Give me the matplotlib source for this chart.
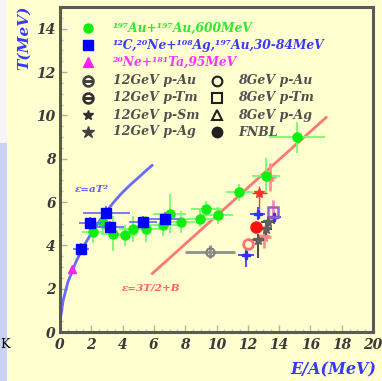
import matplotlib
matplotlib.use("Agg")
import matplotlib.pyplot as plt
from matplotlib.patches import Rectangle

# ---------------- data ----------------
# 197Au+197Au 600 MeV
au_E = [2.12, 2.76, 3.40, 4.14, 4.67, 5.52, 6.58, 7.00, 7.75, 8.92, 9.34, 10.08, 11.46, 13.16, 15.14]
au_T = [4.61, 5.03, 4.54, 4.46, 4.77, 4.77, 4.92, 5.46, 5.07, 5.23, 5.69, 5.38, 6.45, 7.22, 8.98]
au_xerr = [0.7, 0.8, 0.8, 0.8, 0.9, 0.9, 0.9, 1.05, 0.9, 0.9, 1.0, 1.0, 0.85, 0.9, 1.8]
au_yerr = [0.5, 0.5, 0.8, 0.5, 0.6, 0.6, 0.5, 0.9, 0.5, 0.4, 0.35, 0.4, 0.4, 0.8, 0.7]

# 12C,20Ne+108Ag,197Au 30-84 MeV
hi_E = [1.35, 1.91, 2.95, 3.18, 5.31, 6.69]
hi_T = [3.85, 5.03, 5.50, 4.84, 5.07, 5.23]
hi_xerr = [0.5, 0.7, 1.5, 0.9, 0.9, 1.0]
hi_yerr = [0.25, 0.3, 0.3, 0.3, 0.3, 0.3]

# 20Ne+181Ta 95 MeV
ne_E = [0.74]
ne_T = [2.93]

# proton induced / other points near E/A ~ 12-14
red_star_E, red_star_T = [12.74], [6.42]
pink_star_E, pink_star_T = [13.40, 13.06], [7.15, 4.38]
blue_cross_E = [12.63, 11.89, 13.70]
blue_cross_T = [5.46, 3.54, 5.30]
blue_cross_ylo = [0.3, 0.55, 0.3]
blue_cross_yhi = [0.3, 0.3, 0.3]
purple_sq_E, purple_sq_T = [13.60], [5.53]
red_dot_E, red_dot_T = [12.52], [4.84]
gray_star_E = [13.16, 13.27, 12.63]
gray_star_T = [4.77, 5.07, 4.23]
gray_star_ylo = [0.3, 0.3, 0.8]
gray_star_yhi = [0.3, 0.3, 0.3]
pink_circ_E, pink_circ_T = [12.00], [4.08]
gray_circ_E, gray_circ_T = [9.60], [3.70]

# Fermi gas curve
fermi_E = [0.05, 0.2, 0.5, 1.0, 1.5, 2.0, 2.5, 3.0, 3.5, 4.0, 4.5, 5.0, 5.5, 5.9]
fermi_T = [0.72, 1.45, 2.30, 3.20, 3.95, 4.55, 5.10, 5.60, 6.05, 6.45, 6.80, 7.12, 7.45, 7.70]
# classical gas line
gas_E = [5.9, 17.0]
gas_T = [2.7, 9.9]

xticks = [0, 2, 4, 6, 8, 10, 12, 14, 16, 18, 20]
yticks = [0, 2, 4, 6, 8, 10, 12, 14]

legend_heavy = ["¹⁹⁷Au+¹⁹⁷Au,600MeV", "¹²C,²⁰Ne+¹⁰⁸Ag,¹⁹⁷Au,30-84MeV", "²⁰Ne+¹⁸¹Ta,95MeV"]
legend_p_left = ["12GeV p-Au", "12GeV p-Tm", "12GeV p-Sm", "12GeV p-Ag"]
legend_p_right = ["8GeV p-Au", "8GeV p-Tm", "8GeV p-Ag", "FNBL"]

# ---------------- style ----------------
BG = "#FFFFCF"
FONT = "DejaVu Serif"
TXT = "#3a3a3a"
GREEN = "#10ee10"
GREEN_L = "#70ff70"
BLUE = "#0000ff"
BLUE_L = "#7070ff"
MAG = "#ff22ff"

fig = plt.figure(figsize=(3.82, 3.81), dpi=100, facecolor=BG)
W, H = 382, 381
ax = fig.add_axes([60 / W, (H - 332) / H, 313 / W, 325 / H], facecolor=BG)

# left strip artefact
fig.patches.append(Rectangle((0, 0), 7 / W, (H - 143) / H, transform=fig.transFigure,
                             facecolor="#c9d2f3", edgecolor="none", zorder=0))
fig.patches.append(Rectangle((0, (H - 143) / H), 7 / W, 143 / H, transform=fig.transFigure,
                             facecolor="#f7f4f6", edgecolor="none", zorder=0))
fig.text(0.0, (H - 345) / H, "K", fontsize=9, color="black", family="DejaVu Serif",
         va="center", ha="left")

ax.set_xlim(0, 20)
ax.set_ylim(0, 15)

# theory lines
ax.plot(fermi_E, fermi_T, color="#6a6aff", lw=2.0, zorder=2, solid_capstyle="round")
ax.plot(gas_E, gas_T, color="#ff7878", lw=2.0, zorder=2)

# heavy-ion data
ax.errorbar(au_E, au_T, xerr=au_xerr, yerr=au_yerr, fmt="o", color=GREEN, ms=6.5,
            ecolor=GREEN_L, elinewidth=1.3, capsize=0, zorder=4)
ax.errorbar(hi_E, hi_T, xerr=hi_xerr, yerr=hi_yerr, fmt="s", color=BLUE, ms=6.5,
            ecolor=BLUE_L, elinewidth=1.3, capsize=0, zorder=5)
ax.plot(ne_E, ne_T, "^", color=MAG, ms=6, zorder=5)

# others
ax.errorbar(gray_circ_E, gray_circ_T, xerr=[1.6], yerr=[0.3], fmt="o", mfc="none",
            mec="#808080", mew=1.5, ms=6, ecolor="#909090", elinewidth=2, capsize=0, zorder=4)
ax.errorbar(red_star_E, red_star_T, xerr=[0.5], yerr=[[0.75], [0.3]], fmt="*", color="#ff3030",
            ms=7, ecolor="#ff3030", elinewidth=1, capsize=0, zorder=5)
ax.errorbar(pink_star_E, pink_star_T, xerr=[0.4, 0.4], yerr=[0.65, 0.5], fmt="*", color="#ff8080",
            ms=7, ecolor="#ff9090", elinewidth=2, capsize=0, zorder=3)
ax.errorbar(blue_cross_E, blue_cross_T, xerr=[0.5, 0.5, 0.4], yerr=[blue_cross_ylo, blue_cross_yhi],
            fmt="P", color="#3030ff", ms=6, ecolor="#4040ff", elinewidth=1.3, capsize=0, zorder=5)
ax.errorbar(purple_sq_E, purple_sq_T, yerr=[[0.3], [0.55]], fmt="s", mfc="none", mec="#a060c0",
            mew=1.8, ms=7, ecolor="#ff8ab0", elinewidth=2, capsize=0, zorder=5)
ax.errorbar(gray_star_E, gray_star_T, xerr=0.4, yerr=[gray_star_ylo, gray_star_yhi], fmt="*",
            color="#606060", ms=7, ecolor="#505050", elinewidth=1.5, capsize=0, zorder=5)
ax.plot(red_dot_E, red_dot_T, "o", color="#ff1010", ms=8, zorder=6)
ax.plot(pink_circ_E, pink_circ_T, "o", mfc="none", mec="#ff7070", mew=2, ms=7, zorder=6)

# annotations
ax.text(0.95, 6.6, "ε=aT²", fontsize=7.5, color="#6060ff", family=FONT, weight="bold",
        style="italic", ha="left", va="center")
ax.text(3.95, 2.05, "ε=3T/2+B", fontsize=7.5, color="#ff6060", family=FONT, weight="bold",
        style="italic", ha="left", va="center")

# axes styling
for s in ax.spines.values():
    s.set_color("#5a5a5a")
    s.set_linewidth(2.2)
ax.set_xticks(xticks)
ax.set_yticks(yticks)
ax.set_xticks([v * 0.5 for v in range(41)], minor=True)
ax.set_yticks([v * 0.5 for v in range(31)], minor=True)
ax.tick_params(which="major", direction="in", length=5, width=1, color="#b0b0b0",
               labelsize=10, labelcolor=TXT, pad=3)
ax.tick_params(which="minor", direction="in", length=2.5, width=1, color="#c0c0c0")
ax.tick_params(axis="x", which="major", pad=4)
for lab in ax.get_xticklabels() + ax.get_yticklabels():
    lab.set_family(FONT)
    lab.set_weight("bold")
    lab.set_style("italic")

fig.text(24 / W, (H - 38) / H, "T(MeV)", rotation=90, fontsize=11, color="#3838ff",
         family=FONT, weight="bold", style="italic", ha="center", va="center")
fig.text(333 / W, (H - 370) / H, "E/A(MeV)", fontsize=11.5, color="#3838ff",
         family=FONT, weight="bold", style="italic", ha="center", va="center")

# legend (manual)
def axf(px, py):
    return ((px - 60) / 313, (332 - py) / 325)

rows = [28, 45, 62, 81, 98, 115, 132]
heavy_style = [("o", GREEN), ("s", BLUE), ("^", MAG)]
heavy_col = ["#30e830", "#3a3aff", "#ff33ff"]
for i, (lab, st, c) in enumerate(zip(legend_heavy, heavy_style, heavy_col)):
    mx, my = axf(88, rows[i])
    ax.plot([mx], [my], marker=st[0], color=st[1], ms=6.5, ls="none",
            transform=ax.transAxes, clip_on=False)
    tx, ty = axf(113, rows[i])
    ax.text(tx, ty, lab, transform=ax.transAxes, fontsize=8.8, color=c, family=FONT,
            weight="bold", style="italic", ha="left", va="center")

left_mk = [(r"$\ominus$", "#404040", 8), (r"$\ominus$", "#303030", 8), ("*", "#303030", 7),
           ("*", "#404040", 9)]
right_mk = [("o", "none"), ("s", "none"), ("^", "none"), ("o", "#202020")]
for i in range(4):
    r = rows[3 + i]
    mx, my = axf(88, r)
    m, c, sz = left_mk[i]
    ax.plot([mx], [my], marker=m, color=c, ms=sz, ls="none", transform=ax.transAxes,
            clip_on=False)
    tx, ty = axf(113, r)
    ax.text(tx, ty, legend_p_left[i], transform=ax.transAxes, fontsize=9, color="#505050",
            family=FONT, weight="bold", style="italic", ha="left", va="center")
    mx, my = axf(217, r)
    m, fc = right_mk[i]
    ax.plot([mx], [my], marker=m, mfc=fc, mec="#202020", mew=1.5, ms=7, ls="none",
            transform=ax.transAxes, clip_on=False)
    tx, ty = axf(238, r)
    ax.text(tx, ty, legend_p_right[i], transform=ax.transAxes, fontsize=9, color="#505050",
            family=FONT, weight="bold", style="italic", ha="left", va="center")

fig.savefig("out.png", dpi=100, facecolor=BG)
